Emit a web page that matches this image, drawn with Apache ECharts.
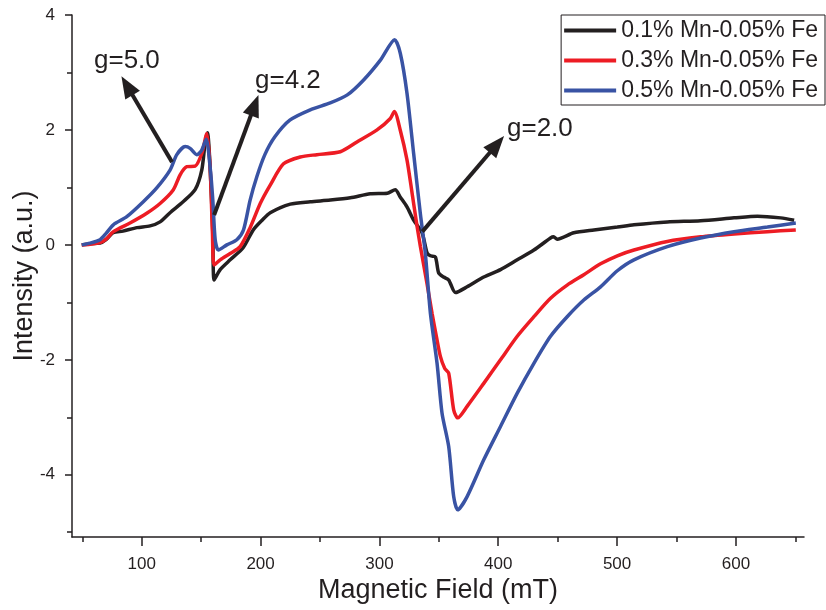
<!DOCTYPE html>
<html>
<head>
<meta charset="utf-8">
<script src="https://cdn.jsdelivr.net/npm/echarts@6/dist/echarts.min.js"></script>
<style>
html,body{margin:0;padding:0;background:#fff;}
#chart{width:826px;height:610px;}
</style>
</head>
<body>
<div id="chart"></div>
<script>
// ---- data ----
var seriesNames = ['0.1% Mn-0.05% Fe', '0.3% Mn-0.05% Fe', '0.5% Mn-0.05% Fe'];

var fieldBlack = [49.5,56.4,64.9,69.9,75.8,84.2,96.0,107.0,115.4,123.8,134.8,144.9,150.5,153.3,155.3,157.5,159.8,160.9,166.0,174.4,185.3,193.8,201.3,208.1,225.0,241.8,258.6,275.5,292.3,306.6,313.3,317.6,323.2,328.8,335.9,340.1,342.9,347.1,349.9,354.1,358.3,364.0,373.8,387.8,401.9,416.0,430.0,444.0,446.6,449.6,463.6,480.5,500.2,514.2,542.3,570.3,598.4,618.1,637.7,649.0];
var intensityBlack = [0,0.02,0.03,0.09,0.21,0.24,0.30,0.33,0.40,0.56,0.75,0.96,1.30,1.77,1.95,1.36,0.21,-0.61,-0.43,-0.26,-0.05,0.26,0.43,0.56,0.71,0.75,0.78,0.82,0.89,0.90,0.96,0.83,0.66,0.43,0.21,-0.14,-0.19,-0.21,-0.49,-0.56,-0.61,-0.83,-0.73,-0.56,-0.43,-0.26,-0.09,0.12,0.14,0.10,0.21,0.26,0.31,0.35,0.40,0.42,0.47,0.50,0.47,0.43];

var fieldRed = [49.5,56.4,64.9,70.0,76.1,90.1,104.2,115.4,126.6,132.3,137.9,144.9,150.5,154.8,157.5,159.5,160.9,166.0,174.4,182.8,191.2,199.7,208.1,219.3,233.4,247.4,267.1,281.1,298.0,309.2,312.6,317.6,323.2,327.5,331.7,334.5,340.1,344.3,348.0,351.3,355.0,358.3,362.5,365.9,373.8,387.8,401.9,416.0,430.0,444.0,458.0,472.0,486.1,500.2,514.2,542.3,570.3,598.4,626.5,650.4];
var intensityRed = [0,0.01,0.04,0.10,0.23,0.38,0.55,0.72,0.96,1.22,1.36,1.37,1.59,1.94,1.36,0.20,-0.35,-0.26,-0.15,-0.03,0.30,0.72,1.04,1.41,1.53,1.57,1.62,1.79,2.00,2.20,2.32,1.99,1.48,0.90,0.32,-0.03,-0.68,-1.19,-1.60,-1.94,-2.15,-2.23,-2.87,-3.01,-2.81,-2.41,-2.00,-1.59,-1.25,-0.93,-0.70,-0.52,-0.33,-0.19,-0.09,0.06,0.14,0.19,0.23,0.26];

var fieldBlue = [49.5,56.4,64.9,70.0,76.1,87.4,101.3,112.6,123.8,129.5,136.5,140.7,146.3,150.5,154.2,157.5,159.8,161.8,164.5,171.6,180.0,185.6,191.2,196.9,203.6,212.0,224.6,241.8,258.6,273.0,286.7,301.0,312.8,317.6,323.2,328.8,334.4,338.6,342.9,348.5,352.7,358.3,362.5,365.9,373.8,387.8,401.9,416.0,430.0,444.0,458.0,472.0,486.1,500.2,514.2,542.3,570.3,598.4,626.5,650.4];
var intensityBlue = [0,0.03,0.09,0.20,0.35,0.49,0.75,0.99,1.30,1.57,1.71,1.68,1.57,1.65,1.84,1.36,0.78,0.09,-0.09,0.00,0.09,0.26,0.78,1.19,1.57,1.88,2.17,2.35,2.47,2.61,2.87,3.22,3.57,3.33,2.64,1.59,0.55,-0.14,-1.19,-2.06,-2.93,-3.51,-4.38,-4.61,-4.38,-3.74,-3.16,-2.58,-2.06,-1.59,-1.25,-0.96,-0.73,-0.45,-0.26,-0.03,0.12,0.23,0.31,0.38];

var xMajorTicks = [100,200,300,400,500,600];
var xMinorTicks = [50,150,250,350,450,550,650];
var yMajorTicks = [-4,-2,0,2,4];
var yMinorTicks = [-5,-3,-1,1,3];

// annotation arrows: [tail, head] in data coords
var annotationLabels = ['g=5.0', 'g=4.2', 'g=2.0'];
var arrowTails = [[125.5,1.44],[160.9,0.52],[336.1,0.23]];
var arrowHeads = [[87.6,2.77],[195.0,2.43],[398.9,1.75]];

// ---- chart ----
var FONT = 'Liberation Sans, Arial, Helvetica, sans-serif';
var INK = '#231f20';
var colors = ['#231f20', '#ed1c24', '#3953a4'];

function zip(xs, ys){ return xs.map(function(x,i){ return [x, ys[i]]; }); }
var allData = [zip(fieldBlack,intensityBlack), zip(fieldRed,intensityRed), zip(fieldBlue,intensityBlue)];

var grid = {left:72, right:22, top:15, bottom:73, containLabel:false, outerBoundsMode:'none'};
var xMin = 41.3, xMax = 657.3, yMin = -5.083, yMax = 4;

var series = allData.map(function(d,i){
  return {
    name: seriesNames[i], type:'line', data:d, showSymbol:false, smooth:0.25,
    lineStyle:{width:3.5, color:colors[i]}, itemStyle:{color:colors[i]},
    z: 2 + i, animation:false
  };
});
series.push({
  type:'line', data:[], silent:true, animation:false,
  markLine:{
    silent:true, animation:false,
    symbol:['none','triangle'], symbolSize:[17,22],
    lineStyle:{color:INK, width:4, type:'solid'},
    label:{show:false},
    data: arrowTails.map(function(t,i){ return [{coord:t}, {coord:arrowHeads[i]}]; })
  }
});

var chart = echarts.init(document.getElementById('chart'), null, {renderer:'canvas'});
chart.setOption({
  backgroundColor:'#fff',
  animation:false,
  grid: grid,
  legend:{
    data: seriesNames, orient:'vertical', right:1, top:15,
    icon:'rect', itemWidth:52, itemHeight:4, itemGap:7,
    borderColor:INK, borderWidth:1, borderRadius:0,
    padding:[4,7,3,3],
    textStyle:{fontFamily:FONT, fontSize:23, color:INK, lineHeight:22}
  },
  xAxis:[{
    type:'value', min:xMin, max:xMax, position:'bottom',
    name:'Magnetic Field (mT)', nameLocation:'middle', nameGap:40, nameMoveOverlap:false,
    nameTextStyle:{fontFamily:FONT, fontSize:27, color:INK},
    axisLine:{show:true, onZero:false, lineStyle:{color:INK, width:1.5}},
    axisTick:{show:true, length:9, lineStyle:{color:INK, width:1.5}, customValues:xMajorTicks},
    axisLabel:{fontFamily:FONT, fontSize:17, color:INK, margin:19, customValues:xMajorTicks},
    splitLine:{show:false}
  },{
    type:'value', min:xMin, max:xMax, position:'bottom',
    axisLine:{show:false, onZero:false},
    axisTick:{show:true, length:5, lineStyle:{color:INK, width:1.5}, customValues:xMinorTicks},
    axisLabel:{show:false}, splitLine:{show:false}
  }],
  yAxis:[{
    type:'value', min:yMin, max:yMax, position:'left',
    name:'Intensity (a.u.)', nameLocation:'middle', nameGap:34, nameMoveOverlap:false,
    nameTextStyle:{fontFamily:FONT, fontSize:27, color:INK},
    axisLine:{show:true, onZero:false, lineStyle:{color:INK, width:1.5}},
    axisTick:{show:true, length:7, lineStyle:{color:INK, width:1.5}, customValues:yMajorTicks},
    axisLabel:{fontFamily:FONT, fontSize:17, color:INK, margin:17, customValues:yMajorTicks},
    splitLine:{show:false}
  },{
    type:'value', min:yMin, max:yMax, position:'left',
    axisLine:{show:false, onZero:false},
    axisTick:{show:true, length:5, lineStyle:{color:INK, width:1.5}, customValues:yMinorTicks},
    axisLabel:{show:false}, splitLine:{show:false}
  }],
  graphic:[
    {type:'text', left:94, top:48, style:{text:annotationLabels[0], font:'26px '+FONT, fill:INK}},
    {type:'text', left:255, top:68, style:{text:annotationLabels[1], font:'26px '+FONT, fill:INK}},
    {type:'text', left:507, top:116, style:{text:annotationLabels[2], font:'26px '+FONT, fill:INK}}
  ],
  series: series
});
</script>
</body>
</html>
